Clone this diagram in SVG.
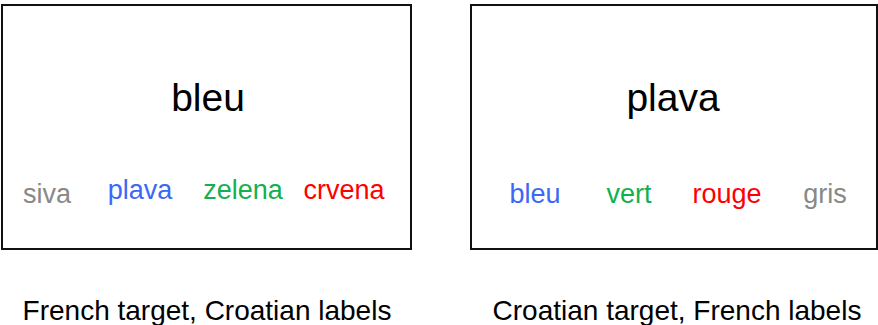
<svg xmlns="http://www.w3.org/2000/svg" width="878" height="325" viewBox="0 0 878 325">
  <style>
    text { font-family: "Liberation Sans", Arial, sans-serif; text-anchor: middle; }
    .box { fill: #ffffff; stroke: #111111; stroke-width: 2; }
    .target { font-size: 39px; fill: #000000; }
    .lab { font-size: 27px; }
    .gray { fill: #888888; }
    .blue { fill: #3d68f5; }
    .green { fill: #12b050; }
    .red { fill: #ff0000; }
    .cap { font-size: 28px; fill: #000000; }
  </style>
  <rect width="878" height="325" fill="#ffffff"/>
  <g id="panel-french">
    <rect class="box" x="2" y="5" width="409" height="244"/>
    <text class="target" x="208" y="111">bleu</text>
    <text class="lab gray" x="47" y="203">siva</text>
    <text class="lab blue" x="140" y="199">plava</text>
    <text class="lab green" x="243" y="199">zelena</text>
    <text class="lab red" x="344" y="199">crvena</text>
  </g>
  <g id="panel-croatian">
    <rect class="box" x="471" y="5" width="406" height="244"/>
    <text class="target" x="673" y="111">plava</text>
    <text class="lab blue" x="535" y="203">bleu</text>
    <text class="lab green" x="629" y="203">vert</text>
    <text class="lab red" x="727" y="203">rouge</text>
    <text class="lab gray" x="825" y="203">gris</text>
  </g>
  <g id="captions">
    <text class="cap" x="207" y="320">French target, Croatian labels</text>
    <text class="cap" x="677" y="320">Croatian target, French labels</text>
  </g>
  <g id="connectors"/>
</svg>
